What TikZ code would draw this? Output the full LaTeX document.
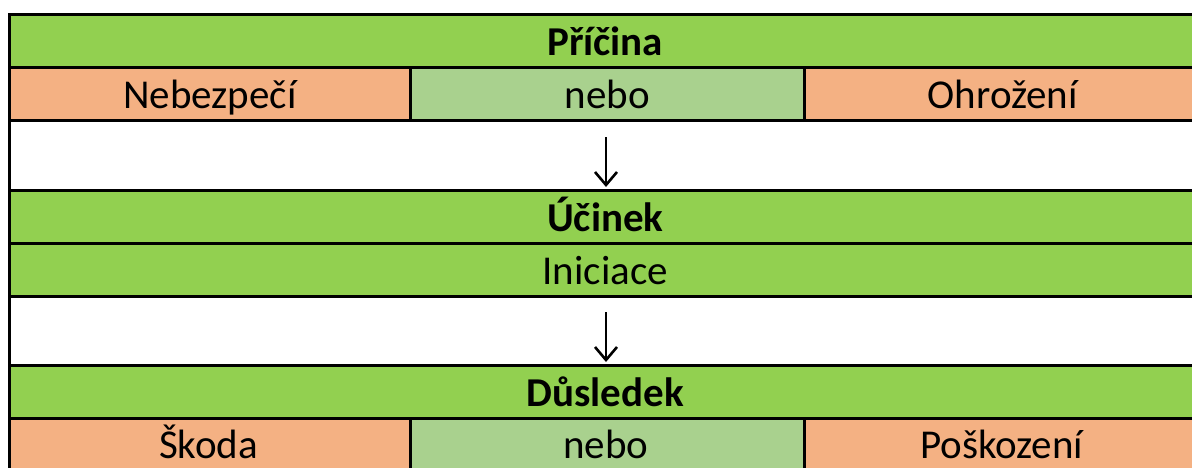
\documentclass[tikz,border=0pt]{standalone}
\usepackage{fontspec}
\setmainfont{Carlito}
\usetikzlibrary{arrows.meta}
\definecolor{cgreen}{HTML}{92D050}
\definecolor{corange}{HTML}{F4B183}
\definecolor{clight}{HTML}{A9D18E}
\tikzset{
  cell/.style={draw=black, line width=2.5pt, rectangle, inner sep=0pt, anchor=north west,
    text height=41pt, text depth=12pt, minimum height=53pt,
    font=\fontsize{41}{48}\selectfont},
  full/.style={cell, minimum width=1192pt},
  gap/.style={draw=black, line width=2.5pt, rectangle, inner sep=0pt, anchor=north west, fill=white, minimum width=1192pt},
  lastcell/.style={draw=black, line width=2.5pt, rectangle, inner sep=0pt, anchor=north west, minimum height=60pt},
  lbl/.style={inner sep=0pt, anchor=base, font=\fontsize{41}{48}\selectfont},
  arr/.style={line width=2.6pt, -{Straight Barb[length=13pt, width=22pt, line width=2.6pt]}}
}
\begin{document}
\begin{tikzpicture}[x=1pt,y=-1pt]
\useasboundingbox (0,0) rectangle (1192,467);
\clip (0,0) rectangle (1192,467);
% row 1
\node[full, fill=cgreen] (pricina) at (8,13) {\bfseries Příčina};
% row 2
\node[cell, fill=corange, minimum width=401pt] (nebezpeci) at (8,66) {Nebezpečí};
\node[cell, fill=clight, minimum width=394pt] (nebo1) at (409,66) {nebo};
\node[cell, fill=corange, minimum width=397pt] (ohrozeni) at (803,66) {Ohrožení};
% gap 1
\node[gap, minimum height=70pt] (gap1) at (8,119) {};
% row 4-5
\node[full, fill=cgreen] (ucinek) at (8,189) {\bfseries Účinek};
\node[full, fill=cgreen] (iniciace) at (8,242) {Iniciace};
% gap 2
\node[gap, minimum height=69pt] (gap2) at (8,295) {};
% row 7-8
\node[full, fill=cgreen] (dusledek) at (8,364) {\bfseries Důsledek};
\node[lastcell, fill=corange, minimum width=401pt] (skoda) at (8,417) {};
\node[lastcell, fill=clight, minimum width=394pt] (nebo2) at (409,417) {};
\node[lastcell, fill=corange, minimum width=397pt] (poskozeni) at (803,417) {};
\node[lbl] (skodat) at (208.5,458) {Škoda};
\node[lbl] (nebo2t) at (606,458) {nebo};
\node[lbl] (poskozenit) at (1001.5,458) {Poškození};
% arrows
\coordinate (a1s) at (606,137);
\coordinate (a1e) at (606,187);
\coordinate (a2s) at (606,312);
\coordinate (a2e) at (606,362);
\draw[arr] (a1s) -- (a1e);
\draw[arr] (a2s) -- (a2e);
\end{tikzpicture}
\end{document}
